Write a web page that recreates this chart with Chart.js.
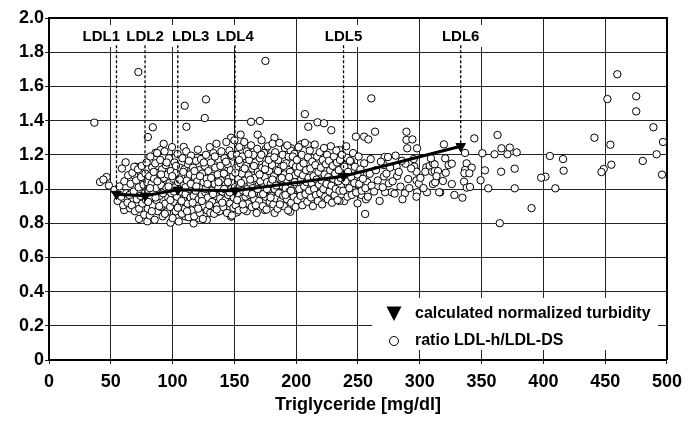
<!DOCTYPE html>
<html><head><meta charset="utf-8">
<script src="https://cdn.jsdelivr.net/npm/chart.js@4/dist/chart.umd.min.js"></script>
<style>html,body{margin:0;padding:0;background:#fff;}canvas{display:block;}</style>
</head><body>
<canvas id="c" width="689" height="422"></canvas>
<script>
// ---------- DATA ----------
const xTickValues = [0,50,100,150,200,250,300,350,400,450,500];
const xTickLabels = ['0','50','100','150','200','250','300','350','400','450','500'];
const yTickValues = [0,0.2,0.4,0.6,0.8,1.0,1.2,1.4,1.6,1.8,2.0];
const yTickLabels = ['0','0.2','0.4','0.6','0.8','1.0','1.2','1.4','1.6','1.8','2.0'];

const ldlNames   = ['LDL1','LDL2','LDL3','LDL4','LDL5','LDL6'];
const ldlX       = [54.6, 77.7, 104.2, 150.5, 238.3, 333.1];
const turbidity  = [0.97, 0.96, 0.995, 0.99, 1.075, 1.25];
const ldlLabelX  = [42.3, 77.7, 114.6, 150.5, 238.3, 333.1];
const ldlLabelY  = 1.895;
const ldlLineTop = 1.84;

const legendLabels = ['calculated normalized turbidity', 'ratio LDL-h/LDL-DS'];
const xTitle = 'Triglyceride [mg/dl]';

const ratioPoints = [
 // outliers and sparse points
 [36.7,1.388],[41.3,1.041],[46.6,1.07],[48.5,1.02],[44,1.055],
 [72.3,1.684],[80,1.304],[84,1.361],[62,1.156],
 [109.8,1.487],[111.2,1.364],[126,1.415],[127,1.524],[109,1.246],[92.8,1.264],
 [175.1,1.749],[163.5,1.393],[170.6,1.398],[168.8,1.318],[182.4,1.300],[147.3,1.300],[155,1.318],
 [207,1.438],[209.8,1.364],[217.2,1.390],[222.5,1.384],[228.4,1.344],[203.8,1.261],[209.4,1.257],[196,1.238],[175.4,1.234],[161.2,1.244],
 [260.8,1.530],[248.3,1.306],[255,1.306],[258.4,1.290],[263.8,1.335],[289.2,1.335],[289.2,1.287],[294,1.290],[289.8,1.238],[297.8,1.238],
 [260.3,1.175],[271.5,1.187],[274.3,1.187],[280.4,1.195],[295.1,1.175],[271,1.140],[281.2,1.131],[288.4,1.148],[295.6,1.131],[305.3,1.127],[308,1.135],[310.7,1.150],
 [257.1,1.082],[259.5,1.089],[271,1.074],[281.7,1.076],[297.3,1.101],[304.5,1.101],[310,1.101],
 [257.6,1.039],[275,1.033],[284.4,1.014],[290.6,1.058],[297.3,1.051],[299.2,1.031],
 [277.2,0.981],[271.9,0.981],[279.6,0.973],[287.9,0.975],[297.8,0.981],[305.8,0.981],[310.7,1.029],[297.3,0.955],[316.5,0.98],
 [248.3,1.027],[241.6,1.027],[245.6,0.994],[249.6,0.916],[252.8,0.965],[255.8,0.854],[238.9,0.930],[235,0.93],[244.3,1.160],[241,1.183],[234.9,1.228],[238.6,1.14],[237,1.08],
 [344.1,1.296],[362.9,1.316],[319.5,1.261],[336.6,1.211],[350.6,1.209],[360.5,1.203],[366.1,1.238],[372.8,1.242],[370.9,1.203],[378.4,1.214],
 [320.6,1.179],[312,1.144],[323.3,1.140],[325.9,1.148],[337.9,1.150],[342,1.125],[336.6,1.111],[336.1,1.092],[340.1,1.092],[352.7,1.109],[365.8,1.101],[376.8,1.119],[312,1.105],[314.7,1.105],
 [349.2,1.051],[312.5,1.039],[318.7,1.047],[325.9,1.029],[335.8,1.043],[338,1.008],[340.6,1.012],[355.4,1.004],[376.8,1.004],[315.7,0.981],[334.5,0.949],[390.4,0.888],[364.7,0.800],
 [459.8,1.671],[451.8,1.526],[475.1,1.542],[475.1,1.454],[489,1.361],[441.3,1.300],[454.2,1.259],[496.8,1.275],[491.6,1.203],[480.4,1.164],
 [405.2,1.193],[415.9,1.175],[416.4,1.107],[401.7,1.072],[398.2,1.066],[409.7,1.004],[455,1.142],[448.8,1.117],[447,1.099],[496,1.084],
 // lower edge of the main cloud
 [72.9,0.825],[79.6,0.811],[98.3,0.803],[117,0.799],[127.7,0.819],[136.6,0.867],[147.3,0.838],[152,0.863],[160,0.870],[174.6,0.877],[182.5,0.860],[195.2,0.867],[60.8,0.877],[65.6,0.887],[110.3,0.84],[121,0.83],
 [86.2,1.212],[90.3,1.228],[70.2,1.13],[73.7,1.13],[68.8,1.08],
 // main cloud 52-80
 [53,0.995],[55.5,0.93],[57,1.015],[58.5,0.955],[60,0.905],[61,1.045],[62.5,0.975],[63.5,0.92],[64,1.08],[59,1.12],
 [65,0.965],[66,1.03],[67,0.905],[67.5,1.095],[68.5,0.985],[69,1.13],[69.5,0.87],[70.5,1.05],[71,0.94],[72,1.115],[72.5,1.01],[73,0.885],[74,0.96],[74.5,1.07],[75,1.135],[75.5,0.915],[76.5,1.025],[77,0.85],[77.5,0.975],[78,1.09],[78.5,0.935],[79,1.155],[79.5,1.04],[80,0.885],
 // main cloud 80-100
 [80.5,0.99],[81,1.075],[81.5,0.845],[82,1.19],[82.5,0.945],[83,1.03],[83.5,1.125],[84,0.905],[84.5,0.98],[85,1.06],[85.5,0.82],[86,1.15],[86.5,1.005],[87,0.935],[87.5,1.21],[88,0.87],[88.5,1.095],[89,1.045],[89.5,0.96],[90,1.17],[90.5,0.895],[91,1.02],[91.5,1.115],[92,0.84],[92.5,0.985],[93,1.065],[93.5,1.22],[94,0.915],[94.5,1.14],[95,1.005],[95.5,0.865],[96,1.085],[96.5,0.95],[97,1.18],[97.5,1.035],[98,0.895],[98.5,1.105],[99,0.975],[99.5,1.245],[100,0.83],
 // main cloud 100-125
 [100.5,1.06],[101,0.925],[101.5,1.155],[102,1.01],[102.5,0.87],[103,1.095],[103.5,0.955],[104,1.205],[104.5,1.04],[105,0.81],[105.5,0.905],[106,1.125],[106.5,0.985],[107,1.07],[107.5,0.855],[108,1.18],[108.5,0.94],[109,1.025],[109.5,1.115],[110,0.885],[110.5,0.97],[111,1.22],[111.5,1.05],[112,0.915],[112.5,1.145],[113,0.835],[113.5,1.0],[114,1.085],[114.5,0.95],[115,1.195],[115.5,0.875],[116,1.035],[116.5,1.125],[117,0.96],[117.5,0.84],[118,1.07],[118.5,0.99],[119,1.165],[119.5,0.905],[120,1.045],[120.5,1.23],[121,0.94],[121.5,1.11],[122,0.86],[122.5,1.015],[123,1.175],[123.5,0.965],[124,1.09],[124.5,0.825],[125,1.04],
 // main cloud 125-150
 [125.5,0.9],[126,1.135],[126.5,0.98],[127,1.2],[127.5,1.06],[128,0.875],[128.5,0.95],[129,1.105],[129.5,1.02],[130,1.245],[130.5,0.86],[131,1.155],[131.5,0.99],[132,0.925],[132.5,1.075],[133,1.21],[133.5,0.855],[134,1.03],[134.5,1.125],[135,0.96],[135.5,1.265],[136,0.9],[136.5,1.085],[137,1.005],[137.5,1.17],[138,0.87],[138.5,0.945],[139,1.05],[139.5,1.22],[140,1.13],[140.5,0.985],[141,0.895],[141.5,1.09],[142,1.18],[142.5,0.935],[143,1.025],[143.5,1.275],[144,0.86],[144.5,1.145],[145,0.965],[145.5,1.06],[146,1.225],[146.5,0.915],[147,1.11],[147.5,1.0],[148,0.845],[148.5,1.19],[149,1.075],[149.5,0.95],[150,1.285],
 [80.2,0.925],[81.7,1.005],[83.2,0.87],[84.7,1.1],[86.2,0.95],[87.7,1.045],[89.2,0.9],[90.7,1.085],[92.2,0.975],[93.7,0.855],[95.2,1.155],[96.7,1.015],[98.2,0.935],[99.7,1.075],[101.2,0.985],[102.7,1.135],[104.2,0.89],[105.7,1.055],[107.2,0.93],[108.7,1.1],[110.2,1.01],[111.7,0.87],[113.2,1.165],[114.7,1.03],[116.2,0.92],[117.7,1.105],[119.2,1.015],[120.7,0.885],[122.2,1.075],[123.7,0.93],[125.2,1.155],[126.7,1.0],[128.2,1.03],[129.7,0.905],[131.2,1.065],[132.7,0.97],[134.2,1.19],[135.7,0.88],[137.2,1.04],[138.7,1.135],[140.2,0.92],[141.7,1.0],[143.2,1.16],[144.7,1.04],[146.2,0.98],[147.7,1.2],[149.2,0.89],
 // main cloud 150-200
 [150.5,1.01],[151,0.905],[151.5,1.125],[152,1.2],[152.5,0.97],[153,1.06],[153.5,0.875],[154,1.245],[154.5,1.015],[155,1.15],[155.5,0.94],[156,1.09],[156.5,1.19],[157,0.99],[157.5,0.88],[158,1.275],[158.5,1.05],[159,0.955],[159.5,1.135],[160,1.22],[160.5,1.0],[161,0.915],[161.5,1.08],[162,1.17],[162.5,0.965],[163,1.035],[163.5,1.255],[164,0.895],[164.5,1.12],[165,1.005],[165.5,1.2],[166,0.94],[166.5,1.065],[167,1.155],[167.5,0.985],[168,0.86],[168.5,1.235],[169,1.1],[169.5,1.02],[170,0.93],[170.5,1.18],[171,1.045],[171.5,0.97],[172,1.285],[172.5,1.125],[173,0.9],[173.5,1.01],[174,1.21],[174.5,1.07],[175,0.955],[175.5,1.145],[176,0.88],[176.5,1.04],[177,1.25],[177.5,0.995],[178,1.105],[178.5,0.925],[179,1.19],[179.5,1.03],[180,0.96],[180.5,1.14],[181,1.265],[181.5,0.91],[182,1.075],[182.5,1.0],[183,1.215],[183.5,0.945],[184,1.11],[184.5,1.035],[185,0.885],[185.5,1.17],[186,0.975],[186.5,1.27],[187,1.06],[187.5,0.93],[188,1.13],[188.5,1.02],[189,1.2],[189.5,0.96],[190,0.9],[190.5,1.085],[191,1.24],[191.5,1.005],[192,1.15],[192.5,0.94],[193,1.045],[193.5,0.875],[194,1.19],[194.5,0.985],[195,1.1],[195.5,1.225],[196,0.92],[196.5,1.06],[197,1.145],[197.5,1.0],[198,0.955],[198.5,1.205],[199,1.08],[199.5,0.895],[200,1.025],
 [150.8,1.095],[152.3,0.935],[153.8,1.17],[155.3,1.035],[156.8,0.91],[158.3,1.12],[159.8,0.98],[161.3,1.205],[162.8,1.055],[164.3,0.97],[165.8,1.135],[167.3,0.905],[168.8,1.0],[170.3,1.085],[171.8,1.2],[173.3,0.97],[174.8,1.115],[176.3,1.0],[177.8,1.17],[179.3,0.95],[180.8,1.055],[182.3,1.185],[183.8,1.02],[185.3,1.105],[186.8,0.91],[188.3,1.065],[189.8,1.135],[191.3,0.965],[192.8,1.255],[194.3,1.07],[195.8,0.99],[197.3,1.19],[198.8,1.04],[199.8,1.13],
 // main cloud 200-235
 [200.5,1.17],[201,0.935],[201.5,1.095],[202,1.245],[202.5,1.0],[203,1.13],[203.5,0.96],[204,1.055],[204.5,1.2],[205,0.905],[205.5,1.08],[206,1.15],[206.5,1.015],[207,1.27],[207.5,0.97],[208,1.11],[208.5,1.04],[209,0.925],[209.5,1.185],[210,1.065],[210.5,0.99],[211,1.225],[211.5,1.12],[212,0.95],[212.5,1.035],[213,1.16],[213.5,0.9],[214,1.075],[214.5,1.0],[215,1.26],[215.5,1.14],[216,0.965],[216.5,1.055],[217,1.19],[217.5,0.93],[218,1.1],[218.5,1.025],[219,1.215],[219.5,0.975],[220,1.125],[220.5,1.05],[221,0.91],[221.5,1.17],[222,1.0],[222.5,1.24],[223,1.085],[223.5,0.955],[224,1.145],[224.5,1.03],[225,1.2],[225.5,0.94],[226,1.07],[226.5,1.165],[227,0.985],[227.5,1.11],[228,1.25],[228.5,1.02],[229,0.92],[229.5,1.135],[230,1.06],[230.5,1.19],[231,0.965],[231.5,1.09],[232,1.0],[232.5,1.225],[233,1.155],[233.5,0.935],[234,1.045],[234.5,1.11],[235,0.99],
 // 235-260
 [235.5,1.17],[236,1.065],[237,1.2],[238,0.99],[239,1.13],[240,1.045],[240.5,1.25],[241.5,0.955],[242,1.1],[243,1.005],[243.5,1.165],[244.5,1.07],[245,0.965],[246,1.21],[247,1.035],[247.5,1.13],[248.5,0.98],[249.5,1.085],[250.5,1.19],[251,1.03],[252,1.115],[253,0.99],[254,1.06],[255,1.15],[256,1.005],[256.5,0.94],
 // 258-335
 [258,0.955],[261,1.02],[263,0.985],[264.5,1.11],[266,1.05],[267.5,0.93],[268.5,1.16],[270,1.01],[273,1.09],[276,1.125],[278,1.045],[283,1.1],[285.5,1.165],[286,0.94],[291.5,1.005],[293,1.12],[300.5,1.065],[303,1.005],[309,1.18],[313.5,1.075],[321,1.095],[328,0.965]
];

// ---------- BUILD ----------
const FONT = '"Liberation Sans", Arial, Helvetica, sans-serif';
Chart.defaults.font.family = FONT;
Chart.defaults.color = '#000';

const ratioData = ratioPoints.map(p => ({x: p[0], y: p[1]}));
const turbData = ldlX.map((x, i) => ({x, y: turbidity[i]}));
const dashData = [];
ldlX.forEach((x, i) => { dashData.push({x, y: ldlLineTop}, {x, y: turbidity[i]}, {x, y: null}); });

const framePlugin = {
  id: 'frame',
  beforeDatasetsDraw(chart) {
    const {ctx, chartArea: a} = chart;
    ctx.save();
    ctx.strokeStyle = '#000';
    ctx.lineWidth = 2;
    ctx.beginPath();
    ctx.moveTo(a.left, a.top); ctx.lineTo(a.right, a.top); ctx.lineTo(a.right, a.bottom);
    ctx.stroke();
    ctx.restore();
  }
};

const ldlLabelPlugin = {
  id: 'ldlLabels',
  beforeDatasetsDraw(chart) {
    const {ctx, scales: {x, y}} = chart;
    ctx.save();
    ctx.font = 'bold 15px ' + FONT;
    ctx.textAlign = 'center';
    ctx.textBaseline = 'middle';
    ldlNames.forEach((name, i) => {
      const px = x.getPixelForValue(ldlLabelX[i]);
      const py = y.getPixelForValue(ldlLabelY);
      const w = ctx.measureText(name).width;
      ctx.fillStyle = '#fff';
      ctx.fillRect(px - w / 2 - 3, py - 11, w + 6, 22);
      ctx.fillStyle = '#000';
      ctx.fillText(name, px, py + 1);
    });
    ctx.restore();
  }
};

const legendPlugin = {
  id: 'customLegend',
  afterDraw(chart) {
    const {ctx, chartArea: a} = chart;
    const w = 286, h = 52;
    const left = a.right - 9 - w, top = a.bottom - 10 - h;
    ctx.save();
    ctx.fillStyle = '#fff';
    ctx.fillRect(left, top, w, h);
    const tx = left + 22, ty = top + 15;
    ctx.fillStyle = '#000';
    ctx.beginPath();
    ctx.moveTo(tx - 7.5, ty - 6.5); ctx.lineTo(tx + 7.5, ty - 6.5); ctx.lineTo(tx, ty + 8);
    ctx.closePath(); ctx.fill();
    ctx.beginPath();
    ctx.arc(left + 22, top + 43, 4.5, 0, Math.PI * 2);
    ctx.fillStyle = '#fff'; ctx.fill();
    ctx.lineWidth = 1; ctx.strokeStyle = '#000'; ctx.stroke();
    ctx.fillStyle = '#000';
    ctx.font = 'bold 16px ' + FONT;
    ctx.textAlign = 'left'; ctx.textBaseline = 'middle';
    ctx.fillText(legendLabels[0], left + 43, top + 16);
    ctx.fillText(legendLabels[1], left + 43, top + 43);
    ctx.restore();
  }
};

new Chart(document.getElementById('c'), {
  type: 'scatter',
  data: {
    datasets: [
      {
        label: legendLabels[0], type: 'line', data: turbData, order: 0,
        borderColor: '#000', borderWidth: 3, showLine: true, fill: false, tension: 0,
        pointStyle: 'triangle', pointRotation: 180, pointRadius: 5.5,
        pointBackgroundColor: '#000', pointBorderColor: '#000', pointBorderWidth: 1
      },
      {
        label: 'ldl-markers', type: 'line', data: dashData, order: 1,
        borderColor: '#000', borderWidth: 1.3, borderDash: [3, 2], showLine: true,
        spanGaps: false, pointRadius: 0, fill: false
      },
      {
        label: legendLabels[1], data: ratioData, order: 2,
        pointRadius: 3.7, pointBorderWidth: 1, pointBorderColor: '#000',
        pointBackgroundColor: '#fff', showLine: false
      }
    ]
  },
  options: {
    responsive: false, animation: false, devicePixelRatio: 1,
    layout: {padding: {top: 18, right: 17, left: 0, bottom: 0}},
    plugins: {legend: {display: false}, tooltip: {enabled: false}},
    scales: {
      x: {
        type: 'linear', min: 0, max: 500,
        afterBuildTicks: s => { s.ticks = xTickValues.map(v => ({value: v})); },
        afterFit: s => { s.height = 62; },
        ticks: {callback: (v, i) => xTickLabels[i], font: {size: 18, weight: 'bold'}, color: '#000', padding: 7, maxRotation: 0, autoSkip: false},
        grid: {color: '#222', lineWidth: 1, tickLength: 4},
        border: {color: '#000', width: 2},
        title: {display: true, text: xTitle, font: {size: 18, weight: 'bold'}, color: '#000', padding: {top: 0, bottom: 6}}
      },
      y: {
        type: 'linear', min: 0, max: 2,
        afterBuildTicks: s => { s.ticks = yTickValues.map(v => ({value: v})); },
        afterFit: s => { s.width = 49; },
        ticks: {callback: (v, i) => yTickLabels[i], font: {size: 18, weight: 'bold'}, color: '#000', padding: 1, autoSkip: false},
        grid: {color: '#222', lineWidth: 1, tickLength: 4},
        border: {color: '#000', width: 2}
      }
    }
  },
  plugins: [framePlugin, ldlLabelPlugin, legendPlugin]
});
</script>
</body></html>
